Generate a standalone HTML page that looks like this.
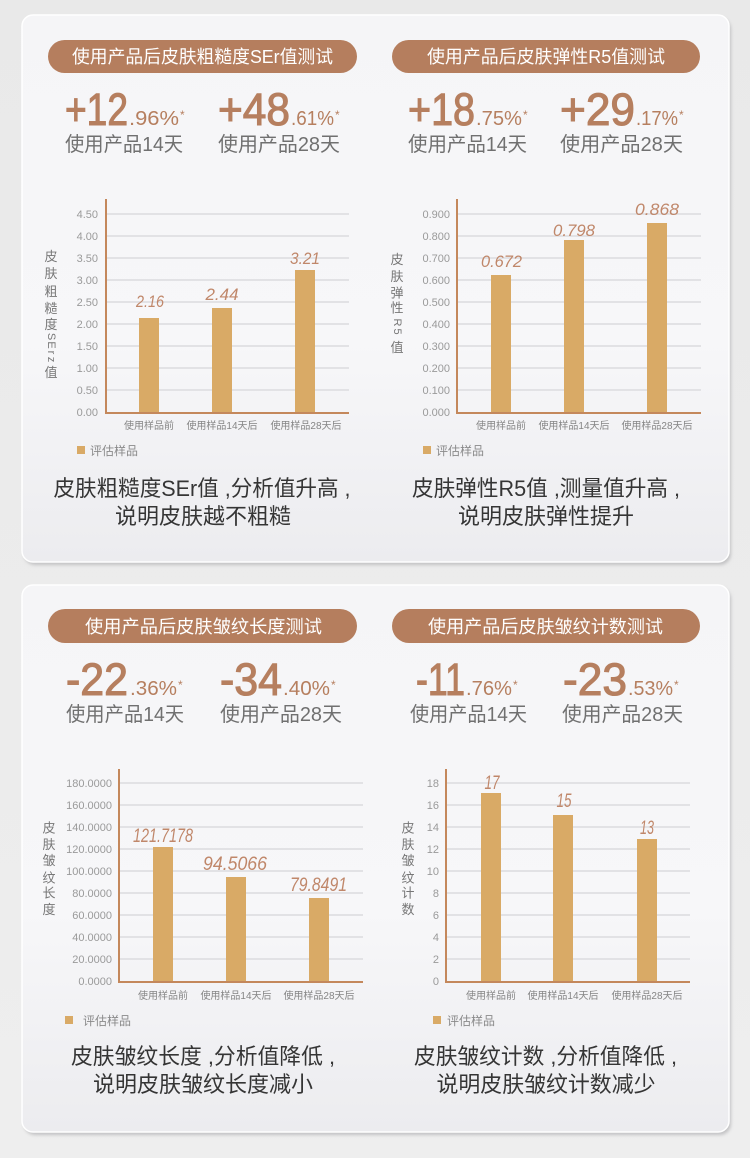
<!DOCTYPE html>
<html><head><meta charset="utf-8"><style>
html,body{margin:0;padding:0;background:#ebebeb;}
svg{display:block;}
text{font-family:"Liberation Sans","Noto Sans CJK SC",sans-serif;}
</style></head><body>
<svg width="750" height="1158" viewBox="0 0 750 1158" xmlns="http://www.w3.org/2000/svg">
<defs>
<linearGradient id="bg" x1="0" y1="0" x2="0" y2="1"><stop offset="0" stop-color="#e9e9e9"/><stop offset="1" stop-color="#eeeeee"/></linearGradient>
<linearGradient id="cd" x1="0" y1="0" x2="0" y2="1"><stop offset="0" stop-color="#f5f5f7"/><stop offset="0.6" stop-color="#f7f7f9"/><stop offset="1" stop-color="#ececef"/></linearGradient>
<filter id="sh" x="-5%" y="-5%" width="110%" height="110%"><feGaussianBlur stdDeviation="1.6"/></filter>
</defs>
<rect x="0" y="0" width="750" height="1158" fill="url(#bg)"/>

<!-- cards -->
<rect x="24" y="18" width="707" height="547" rx="11" fill="#c2c2c4" filter="url(#sh)"/>
<rect x="22" y="15" width="707" height="547" rx="11" fill="url(#cd)" stroke="#ffffff" stroke-width="1.5"/>
<rect x="24" y="588" width="707" height="547" rx="11" fill="#c2c2c4" filter="url(#sh)"/>
<rect x="22" y="585" width="707" height="547" rx="11" fill="url(#cd)" stroke="#ffffff" stroke-width="1.5"/>

<!-- pills -->
<g fill="#b57e5e">
<rect x="48" y="40" width="309" height="33" rx="16.5"/>
<rect x="392" y="40" width="308" height="33" rx="16.5"/>
<rect x="48" y="609" width="309" height="34" rx="17"/>
<rect x="392" y="609" width="308" height="34" rx="17"/>
</g>
<g fill="#ffffff" font-size="18" text-anchor="middle">
<text x="202.5" y="63" textLength="261" lengthAdjust="spacingAndGlyphs">使用产品后皮肤粗糙度SEr值测试</text>
<text x="546" y="63" textLength="238" lengthAdjust="spacingAndGlyphs">使用产品后皮肤弹性R5值测试</text>
<text x="203.5" y="633" textLength="237" lengthAdjust="spacingAndGlyphs">使用产品后皮肤皱纹长度测试</text>
<text x="545.5" y="633" textLength="235" lengthAdjust="spacingAndGlyphs">使用产品后皮肤皱纹计数测试</text>
</g>

<!-- big numbers -->
<g fill="#b67f5f">
<g stroke="#b67f5f" stroke-width="1.1">
<text x="65" y="125" font-size="45" textLength="63" lengthAdjust="spacingAndGlyphs">+12</text>
<text x="218" y="125" font-size="45" textLength="72" lengthAdjust="spacingAndGlyphs">+48</text>
<text x="408" y="125" font-size="45" textLength="67" lengthAdjust="spacingAndGlyphs">+18</text>
<text x="560" y="125" font-size="45" textLength="75" lengthAdjust="spacingAndGlyphs">+29</text>
<text x="66" y="695" font-size="45" textLength="62" lengthAdjust="spacingAndGlyphs">-22</text>
<text x="220" y="695" font-size="45" textLength="62" lengthAdjust="spacingAndGlyphs">-34</text>
<text x="416" y="695" font-size="45" textLength="49" lengthAdjust="spacingAndGlyphs">-11</text>
<text x="563" y="695" font-size="45" textLength="64" lengthAdjust="spacingAndGlyphs">-23</text>
</g>
<text x="129" y="125" font-size="20" textLength="50" lengthAdjust="spacingAndGlyphs">.96%</text>
<text x="180" y="119" font-size="12">*</text>
<text x="291" y="125" font-size="20" textLength="43" lengthAdjust="spacingAndGlyphs">.61%</text>
<text x="335" y="119" font-size="12">*</text>
<text x="476" y="125" font-size="20" textLength="46" lengthAdjust="spacingAndGlyphs">.75%</text>
<text x="523" y="119" font-size="12">*</text>
<text x="636" y="125" font-size="20" textLength="42" lengthAdjust="spacingAndGlyphs">.17%</text>
<text x="679" y="119" font-size="12">*</text>

<text x="130" y="695" font-size="20" textLength="47" lengthAdjust="spacingAndGlyphs">.36%</text>
<text x="178" y="689" font-size="12">*</text>
<text x="283" y="695" font-size="20" textLength="47" lengthAdjust="spacingAndGlyphs">.40%</text>
<text x="331" y="689" font-size="12">*</text>
<text x="466" y="695" font-size="20" textLength="46" lengthAdjust="spacingAndGlyphs">.76%</text>
<text x="513" y="689" font-size="12">*</text>
<text x="628" y="695" font-size="20" textLength="45" lengthAdjust="spacingAndGlyphs">.53%</text>
<text x="674" y="689" font-size="12">*</text>
</g>
<g fill="#707070" font-size="20">
<text x="65" y="151" textLength="118" lengthAdjust="spacingAndGlyphs">使用产品14天</text>
<text x="218" y="151" textLength="122" lengthAdjust="spacingAndGlyphs">使用产品28天</text>
<text x="408" y="151" textLength="119" lengthAdjust="spacingAndGlyphs">使用产品14天</text>
<text x="560" y="151" textLength="123" lengthAdjust="spacingAndGlyphs">使用产品28天</text>
<text x="66" y="721" textLength="118" lengthAdjust="spacingAndGlyphs">使用产品14天</text>
<text x="220" y="721" textLength="122" lengthAdjust="spacingAndGlyphs">使用产品28天</text>
<text x="410" y="721" textLength="117" lengthAdjust="spacingAndGlyphs">使用产品14天</text>
<text x="562" y="721" textLength="121" lengthAdjust="spacingAndGlyphs">使用产品28天</text>
</g>

<!-- gridlines -->
<g stroke="#e2e2e5" stroke-width="2">
<line x1="106" y1="390" x2="349" y2="390"/><line x1="106" y1="368" x2="349" y2="368"/><line x1="106" y1="346" x2="349" y2="346"/><line x1="106" y1="324" x2="349" y2="324"/><line x1="106" y1="302" x2="349" y2="302"/><line x1="106" y1="280" x2="349" y2="280"/><line x1="106" y1="258" x2="349" y2="258"/><line x1="106" y1="236" x2="349" y2="236"/><line x1="106" y1="214" x2="349" y2="214"/>
<line x1="457" y1="390" x2="701" y2="390"/><line x1="457" y1="368" x2="701" y2="368"/><line x1="457" y1="346" x2="701" y2="346"/><line x1="457" y1="324" x2="701" y2="324"/><line x1="457" y1="302" x2="701" y2="302"/><line x1="457" y1="280" x2="701" y2="280"/><line x1="457" y1="258" x2="701" y2="258"/><line x1="457" y1="236" x2="701" y2="236"/><line x1="457" y1="214" x2="701" y2="214"/>
<line x1="119" y1="959" x2="363" y2="959"/><line x1="119" y1="937" x2="363" y2="937"/><line x1="119" y1="915" x2="363" y2="915"/><line x1="119" y1="893" x2="363" y2="893"/><line x1="119" y1="871" x2="363" y2="871"/><line x1="119" y1="849" x2="363" y2="849"/><line x1="119" y1="827" x2="363" y2="827"/><line x1="119" y1="805" x2="363" y2="805"/><line x1="119" y1="783" x2="363" y2="783"/>
<line x1="446" y1="959" x2="690" y2="959"/><line x1="446" y1="937" x2="690" y2="937"/><line x1="446" y1="915" x2="690" y2="915"/><line x1="446" y1="893" x2="690" y2="893"/><line x1="446" y1="871" x2="690" y2="871"/><line x1="446" y1="849" x2="690" y2="849"/><line x1="446" y1="827" x2="690" y2="827"/><line x1="446" y1="805" x2="690" y2="805"/><line x1="446" y1="783" x2="690" y2="783"/>
</g>

<!-- bars -->
<g fill="#d9aa66">
<rect x="139" y="318" width="20" height="94"/><rect x="212" y="308" width="20" height="104"/><rect x="295" y="270" width="20" height="142"/>
<rect x="491" y="275" width="20" height="137"/><rect x="564" y="240" width="20" height="172"/><rect x="647" y="223" width="20" height="189"/>
<rect x="153" y="847" width="20" height="134"/><rect x="226" y="877" width="20" height="104"/><rect x="309" y="898" width="20" height="83"/>
<rect x="481" y="793" width="20" height="188"/><rect x="553" y="815" width="20" height="166"/><rect x="637" y="839" width="20" height="142"/>
<rect x="77" y="446" width="8" height="8"/><rect x="423" y="446" width="8" height="8"/>
<rect x="65" y="1016" width="8" height="8"/><rect x="433" y="1016" width="8" height="8"/>
</g>

<!-- axes -->
<g stroke="#c4885c" stroke-width="2" fill="none">
<polyline points="106,199 106,413 349,413"/>
<polyline points="457,199 457,413 701,413"/>
<polyline points="119,769 119,982 363,982"/>
<polyline points="446,769 446,982 690,982"/>
</g>

<!-- tick labels -->
<g fill="#9a9a9a" font-size="11" text-anchor="end">
<text x="98" y="416">0.00</text><text x="98" y="394">0.50</text><text x="98" y="372">1.00</text><text x="98" y="350">1.50</text><text x="98" y="328">2.00</text><text x="98" y="306">2.50</text><text x="98" y="284">3.00</text><text x="98" y="262">3.50</text><text x="98" y="240">4.00</text><text x="98" y="218">4.50</text>
<text x="450" y="416">0.000</text><text x="450" y="394">0.100</text><text x="450" y="372">0.200</text><text x="450" y="350">0.300</text><text x="450" y="328">0.400</text><text x="450" y="306">0.500</text><text x="450" y="284">0.600</text><text x="450" y="262">0.700</text><text x="450" y="240">0.800</text><text x="450" y="218">0.900</text>
<text x="112" y="985">0.0000</text><text x="112" y="963">20.0000</text><text x="112" y="941">40.0000</text><text x="112" y="919">60.0000</text><text x="112" y="897">80.0000</text><text x="112" y="875">100.0000</text><text x="112" y="853">120.0000</text><text x="112" y="831">140.0000</text><text x="112" y="809">160.0000</text><text x="112" y="787">180.0000</text>
<text x="439" y="985">0</text><text x="439" y="963">2</text><text x="439" y="941">4</text><text x="439" y="919">6</text><text x="439" y="897">8</text><text x="439" y="875">10</text><text x="439" y="853">12</text><text x="439" y="831">14</text><text x="439" y="809">16</text><text x="439" y="787">18</text>
</g>

<!-- value labels -->
<g fill="#c0876a" font-style="italic" text-anchor="middle">
<text x="150" y="307" font-size="17" textLength="28" lengthAdjust="spacingAndGlyphs">2.16</text>
<text x="222" y="300" font-size="17" textLength="33" lengthAdjust="spacingAndGlyphs">2.44</text>
<text x="305" y="264" font-size="17" textLength="30" lengthAdjust="spacingAndGlyphs">3.21</text>
<text x="501.5" y="267" font-size="17" textLength="41" lengthAdjust="spacingAndGlyphs">0.672</text>
<text x="574" y="236" font-size="17" textLength="42" lengthAdjust="spacingAndGlyphs">0.798</text>
<text x="657" y="215" font-size="17" textLength="44" lengthAdjust="spacingAndGlyphs">0.868</text>
<text x="163" y="842" font-size="19" textLength="60" lengthAdjust="spacingAndGlyphs">121.7178</text>
<text x="235" y="870" font-size="19" textLength="64" lengthAdjust="spacingAndGlyphs">94.5066</text>
<text x="318.5" y="891" font-size="19" textLength="57" lengthAdjust="spacingAndGlyphs">79.8491</text>
<text x="492" y="789" font-size="19" textLength="15" lengthAdjust="spacingAndGlyphs">17</text>
<text x="564" y="807" font-size="19" textLength="15" lengthAdjust="spacingAndGlyphs">15</text>
<text x="647" y="834" font-size="19" textLength="14" lengthAdjust="spacingAndGlyphs">13</text>
</g>

<!-- x labels -->
<g fill="#858585" font-size="10" text-anchor="middle">
<text x="149" y="429">使用样品前</text><text x="222" y="429">使用样品14天后</text><text x="306" y="429">使用样品28天后</text>
<text x="501" y="429">使用样品前</text><text x="574" y="429">使用样品14天后</text><text x="657" y="429">使用样品28天后</text>
<text x="163" y="999">使用样品前</text><text x="236" y="999">使用样品14天后</text><text x="319" y="999">使用样品28天后</text>
<text x="491" y="999">使用样品前</text><text x="563" y="999">使用样品14天后</text><text x="647" y="999">使用样品28天后</text>
</g>

<!-- legend -->
<g fill="#8a8a8a" font-size="12">
<text x="90" y="455">评估样品</text>
<text x="436" y="455">评估样品</text>
<text x="83" y="1025">评估样品</text>
<text x="447" y="1025">评估样品</text>
</g>

<!-- y titles -->
<g fill="#777777" font-size="13" text-anchor="middle">
<text x="51" y="261">皮</text><text x="51" y="278">肤</text><text x="51" y="296">粗</text><text x="51" y="313">糙</text><text x="51" y="329">度</text>
<text x="51" y="336.5" font-size="11" dominant-baseline="central" transform="rotate(90 51 336.5)">S</text>
<text x="51" y="345" font-size="11" dominant-baseline="central" transform="rotate(90 51 345)">E</text>
<text x="51" y="352.5" font-size="11" dominant-baseline="central" transform="rotate(90 51 352.5)">r</text>
<text x="51" y="359.5" font-size="11" dominant-baseline="central" transform="rotate(90 51 359.5)">z</text>
<text x="51" y="377">值</text>

<text x="397" y="264">皮</text><text x="397" y="281">肤</text><text x="397" y="297.5">弹</text><text x="397" y="312.5">性</text>
<text x="397" y="322.5" font-size="11" dominant-baseline="central" transform="rotate(90 397 322.5)">R</text>
<text x="397" y="331.5" font-size="11" dominant-baseline="central" transform="rotate(90 397 331.5)">5</text>
<text x="397" y="352">值</text>

<text x="49" y="832.5">皮</text><text x="49" y="849">肤</text><text x="49" y="865">皱</text><text x="49" y="882.5">纹</text><text x="49" y="897.5">长</text><text x="49" y="914">度</text>
<text x="408" y="832.5">皮</text><text x="408" y="849">肤</text><text x="408" y="865">皱</text><text x="408" y="882.5">纹</text><text x="408" y="897.5">计</text><text x="408" y="914">数</text>
</g>

<!-- description -->
<g fill="#353535" font-size="22" text-anchor="middle">
<text x="202" y="496" textLength="297" lengthAdjust="spacingAndGlyphs">皮肤粗糙度SEr值 ,分析值升高 ,</text>
<text x="203" y="524" textLength="176" lengthAdjust="spacingAndGlyphs">说明皮肤越不粗糙</text>
<text x="546" y="496" textLength="268" lengthAdjust="spacingAndGlyphs">皮肤弹性R5值 ,测量值升高 ,</text>
<text x="546" y="524" textLength="176" lengthAdjust="spacingAndGlyphs">说明皮肤弹性提升</text>
<text x="203" y="1064" textLength="264" lengthAdjust="spacingAndGlyphs">皮肤皱纹长度 ,分析值降低 ,</text>
<text x="203" y="1092" textLength="220" lengthAdjust="spacingAndGlyphs">说明皮肤皱纹长度减小</text>
<text x="545.5" y="1064" textLength="263" lengthAdjust="spacingAndGlyphs">皮肤皱纹计数 ,分析值降低 ,</text>
<text x="546" y="1092" textLength="219" lengthAdjust="spacingAndGlyphs">说明皮肤皱纹计数减少</text>
</g>
</svg>
</body></html>
